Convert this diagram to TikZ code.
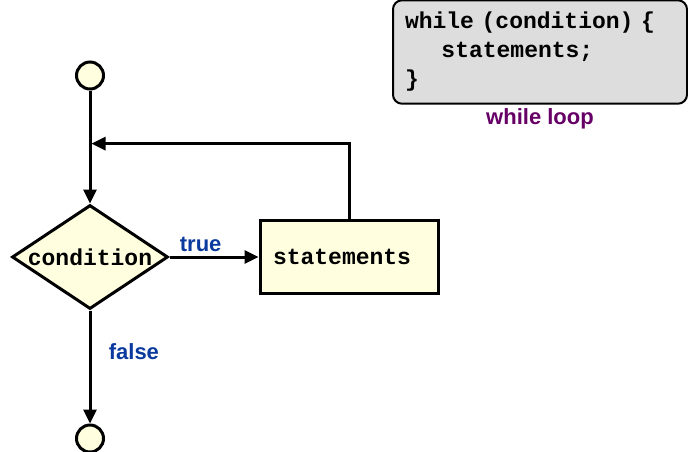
\documentclass[tikz,border=0pt]{standalone}
\usepackage{fontspec}
\usepackage{tikz}
\usetikzlibrary{arrows.meta, positioning, shapes.geometric, calc}

\newfontfamily\codefont{Liberation Mono}
\newfontfamily\labelfont{Liberation Sans}
\definecolor{celda}{HTML}{FFFFE0}
\definecolor{gris}{HTML}{DDDDDD}
\definecolor{azul}{HTML}{0A3A9E}
\definecolor{morado}{HTML}{660066}

\begin{document}
\begin{tikzpicture}[
        x=1pt, y=-1pt,
        every node/.style={font=\codefont\bfseries\fontsize{23}{29}\selectfont},
        terminal/.style={
            circle, draw=black, line width=3pt, fill=celda,
            minimum size=27pt, inner sep=0pt
        },
        decision/.style={
            diamond, draw=black, line width=3pt, fill=celda,
            minimum width=156pt, minimum height=104pt,
            shape aspect=1.5, inner sep=0pt
        },
        bloque/.style={
            rectangle, draw=black, line width=3pt, fill=celda,
            text width=152pt, align=left, minimum height=73pt, inner sep=13pt
        },
        codigo/.style={
            rectangle, rounded corners=9pt, draw=black, line width=2pt, fill=gris,
            text width=270pt, align=left, minimum height=94pt, inner sep=12pt
        },
        etiqueta/.style={font=\labelfont\bfseries\fontsize{22}{26}\selectfont, text=azul},
        arr/.style={-{Triangle[length=14pt, width=13pt]}, line width=3pt, draw=black}
    ]
        \useasboundingbox (0,0) rectangle (688,451);

% --- Nodos del diagrama ---
        \node[decision] (cond) at (90,257) {condition};
        \node[terminal, above=113pt of cond] (inicio) {};
        \node[terminal, below=113pt of cond] (fin) {};
        \node[bloque, right=89pt of cond] (cuerpo) {statements};

% --- Flechas ---
        \coordinate (retorno) at ($(inicio.south)!0.47!(cond.north)$);
        \draw[arr] (inicio) -- (cond);
        \draw[arr] (cond) -- node[etiqueta, above, pos=0.35, inner sep=4pt] {true} (cuerpo);
        \draw[arr] (cond) -- node[etiqueta, right=14pt, pos=0.36] {false} (fin);
        \draw[arr] (cuerpo.north) |- ([xshift=1.5pt]retorno);

% --- Codigo equivalente ---
        \node[codigo] (bucle) at (540,52)
            {while (condition) \{\\
            \hspace*{3ex}statements;\\
            \}};
        \node[etiqueta, text=morado, below=0pt of bucle] (titulo) {while loop};
    \end{tikzpicture}
\end{document}
